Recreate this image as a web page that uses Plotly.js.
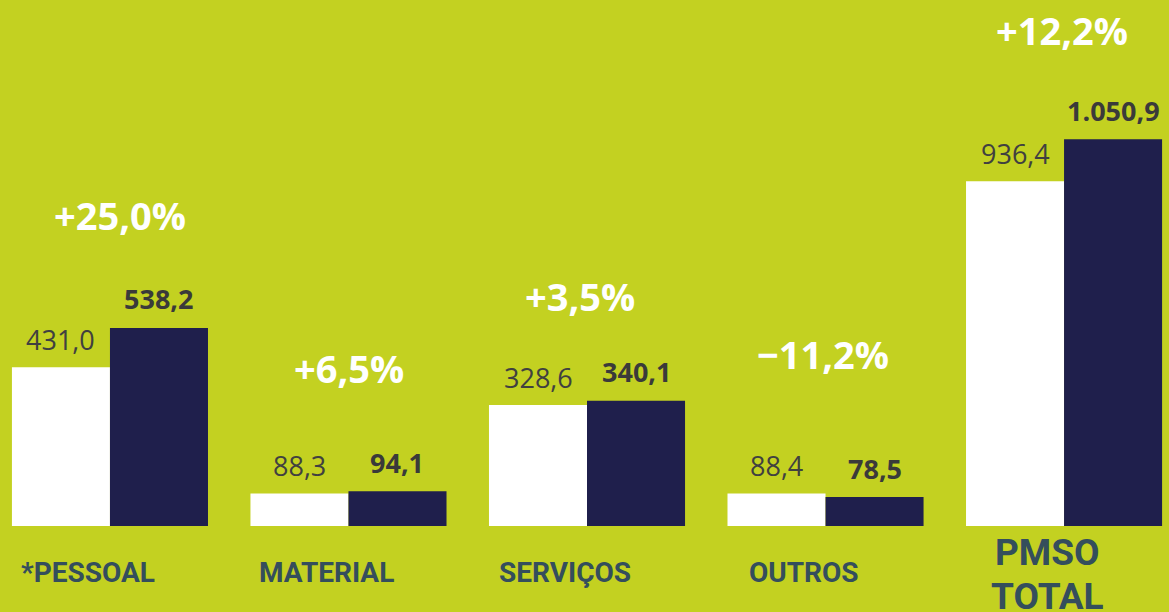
<!DOCTYPE html>
<html>
<head>
<meta charset="utf-8">
<script src="https://cdn.plot.ly/plotly-3.0.1.min.js"></script>
<style>html,body{margin:0;padding:0;background:#c3d121;}#chart{width:1169px;height:612px;}</style>
</head>
<body>
<div id="chart"></div>
<script>
// Data
var categories = ["*PESSOAL", "MATERIAL", "SERVIÇOS", "OUTROS", "PMSO TOTAL"];
var categoryLabelLines = [["*PESSOAL"], ["MATERIAL"], ["SERVIÇOS"], ["OUTROS"], ["PMSO", "TOTAL"]];
var previousValues = [431.0, 88.3, 328.6, 88.4, 936.4];
var currentValues = [538.2, 94.1, 340.1, 78.5, 1050.9];
var previousLabels = ["431,0", "88,3", "328,6", "88,4", "936,4"];
var currentLabels = ["538,2", "94,1", "340,1", "78,5", "1.050,9"];
var changeLabels = ["+25,0%", "+6,5%", "+3,5%", "−11,2%", "+12,2%"];

// Layout placement (not data)
var changeLabelY = [845, 429, 625, 467, 1348];
var changeLabelShift = [10, 1, -7, -3, -2];

var BG = "#c3d121";
var NAVY = "#1f1f4c";

var traces = [
  {type: "bar", x: categories, y: previousValues, marker: {color: "#ffffff"}, hoverinfo: "none", name: "prev"},
  {type: "bar", x: categories, y: currentValues, marker: {color: NAVY}, hoverinfo: "none", name: "curr"}
];

var annotations = [];
categories.forEach(function (c, i) {
  annotations.push({x: c, xref: "x", y: previousValues[i], yref: "y", xshift: -49, yshift: 28,
    text: previousLabels[i], showarrow: false, xanchor: "center", yanchor: "middle",
    font: {family: "Open Sans", size: 27, color: "#404040"}});
  annotations.push({x: c, xref: "x", y: currentValues[i], yref: "y", xshift: 49, yshift: 29,
    text: "<b>" + currentLabels[i] + "</b>", showarrow: false, xanchor: "center", yanchor: "middle",
    font: {family: "Open Sans", size: 27, color: "#3a3a3a"}});
  annotations.push({x: c, xref: "x", y: changeLabelY[i], yref: "y", xshift: changeLabelShift[i],
    text: "<b>" + changeLabels[i] + "</b>", showarrow: false, xanchor: "center", yanchor: "middle",
    font: {family: "Open Sans", size: 38, color: "#ffffff"}});
  var lines = categoryLabelLines[i];
  var isTotal = lines.length > 1;
  lines.forEach(function (ln, k) {
    annotations.push({x: c, xref: "x", y: 0, yref: "paper",
      xshift: isTotal ? -17 : -22,
      yshift: isTotal ? (-26 - 44 * k) : -46,
      text: "<b>" + ln + "</b>", showarrow: false, xanchor: "center", yanchor: "middle",
      font: {family: "Roboto", size: isTotal ? 37 : 28, color: "#344e5c"}});
  });
});

var layout = {
  width: 1169, height: 612,
  paper_bgcolor: BG, plot_bgcolor: BG,
  margin: {l: 0, r: 0, t: 0, b: 86, pad: 0},
  barmode: "group", bargap: 0.178, bargroupgap: 0,
  showlegend: false,
  xaxis: {range: [-0.461, 4.44], showgrid: false, zeroline: false, showticklabels: false, showline: false, fixedrange: true},
  yaxis: {range: [0, 1429], showgrid: false, zeroline: false, showticklabels: false, showline: false, fixedrange: true},
  annotations: annotations
};

Plotly.newPlot("chart", traces, layout, {displayModeBar: false, staticPlot: true});
</script>
</body>
</html>
